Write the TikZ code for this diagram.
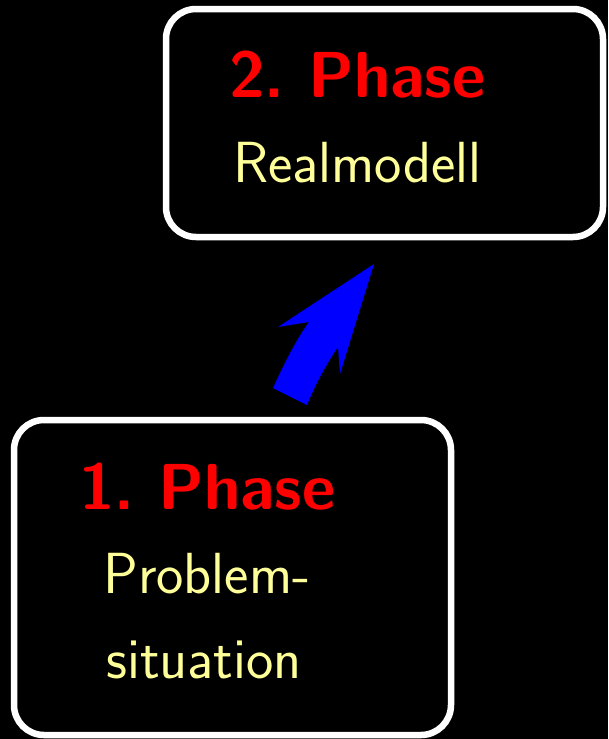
\documentclass[tikz,border=0pt]{standalone}
\usepackage{fontspec}
\frenchspacing
\begin{document}
\begin{tikzpicture}[x=1pt,y=-1pt,
  phasebox/.style={draw=white,line width=6.5pt,rounded corners=30pt,fill=black,inner sep=0pt,minimum width=437pt},
  headtxt/.style={anchor=base west,inner sep=0pt,text=red,font=\sffamily\bfseries\fontsize{65}{65}\selectfont},
  subtxt/.style={anchor=base west,inner sep=0pt,text=yellowtxt,font=\sffamily\fontsize{58}{58}\selectfont}]
\definecolor{yellowtxt}{RGB}{255,255,153}
\fill[black] (0,0) rectangle (608,739);
\useasboundingbox (0,0) rectangle (608,739);
\node[phasebox,minimum height=228pt] (p2) at (384.5,123) {};
\node[phasebox,minimum height=315pt] (p1) at (232.5,577.5) {};
\node[headtxt] (h2) at (229,97) {2.\ Phase};
\node[subtxt] (s2) at (233,182) {Realmodell};
\node[headtxt] (h1) at (79,509) {1.\ Phase};
\node[subtxt] (s1a) at (103,593) {Problem-};
\node[subtxt] (s1b) at (106,678) {situation};
\fill[blue] (273,388) .. controls (285,362) and (296,340) .. (309,322) -- (278,327) -- (374,264) -- (340,374) -- (338,347) .. controls (327,363) and (316,383) .. (307,405) -- cycle;
\end{tikzpicture}
\end{document}
